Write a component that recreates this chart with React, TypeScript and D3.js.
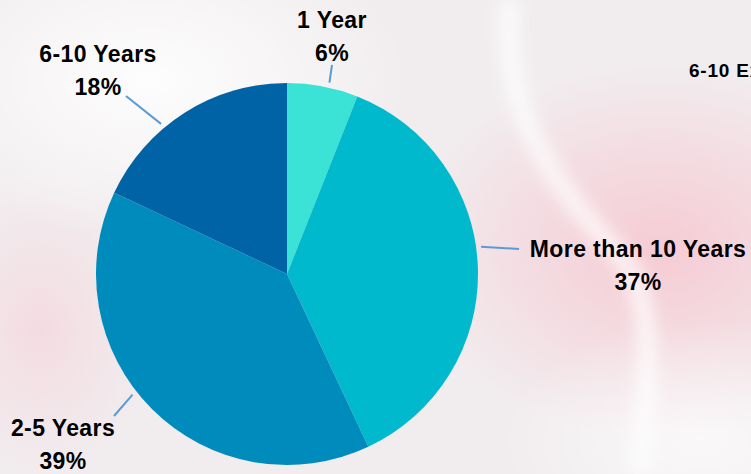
import React, { useEffect, useRef } from 'react'
import * as d3 from 'd3'

// slice data, clockwise from 12 o'clock
const categories = ['1 Year', 'More than 10 Years', '2-5 Years', '6-10 Years']
const shares = [6, 37, 39, 18]
const sliceColors = ['#3ae3d5', '#00b9cc', '#008bbd', '#0063a6']

// label placement relative to the pie centre (Excel style manual layout)
const labelLayout = [
  { x: 45, y: -246, leaderAngle: 12.5, leaderEnd: [45, -209] },
  { x: 351, y: -17, leaderAngle: 82, leaderEnd: [232, -25] },
  { x: -224, y: 162, leaderAngle: 232, leaderEnd: [-173, 142] },
  { x: -189, y: -212, leaderAngle: 320, leaderEnd: [-161, -178] },
]

const W = 751
const H = 474

export default function App() {
  const svgRef = useRef<SVGSVGElement>(null)

  useEffect(() => {
    document.body.style.margin = '0'
    if (!svgRef.current) return
    const svg = d3.select(svgRef.current)
    svg.selectAll('*').remove()

    // blurred photo-ish background
    const defs = svg.append('defs')
    const pink = defs.append('radialGradient').attr('id', 'pink').attr('cx', '0.5').attr('cy', '0.5').attr('r', '0.5')
    pink.append('stop').attr('offset', '0%').attr('stop-color', '#f6c9d2').attr('stop-opacity', 0.95)
    pink.append('stop').attr('offset', '100%').attr('stop-color', '#f6c9d2').attr('stop-opacity', 0)
    const white = defs.append('radialGradient').attr('id', 'white').attr('cx', '0.5').attr('cy', '0.5').attr('r', '0.5')
    white.append('stop').attr('offset', '0%').attr('stop-color', '#ffffff').attr('stop-opacity', 0.9)
    white.append('stop').attr('offset', '100%').attr('stop-color', '#ffffff').attr('stop-opacity', 0)
    defs.append('filter').attr('id', 'blur').attr('x', '-50%').attr('y', '-50%').attr('width', '200%').attr('height', '200%')
      .append('feGaussianBlur').attr('stdDeviation', 8)

    svg.append('rect').attr('width', W).attr('height', H).attr('fill', '#f1edef')
    svg.append('ellipse').attr('cx', 660).attr('cy', 250).attr('rx', 260).attr('ry', 190).attr('fill', 'url(#pink)')
    svg.append('ellipse').attr('cx', 40).attr('cy', 330).attr('rx', 120).attr('ry', 150).attr('fill', 'url(#pink)').attr('opacity', 0.5)
    svg.append('ellipse').attr('cx', 150).attr('cy', 80).attr('rx', 260).attr('ry', 160).attr('fill', 'url(#white)')
    svg.append('ellipse').attr('cx', 700).attr('cy', 440).attr('rx', 200).attr('ry', 120).attr('fill', 'url(#white)').attr('opacity', 0.7)
    svg.append('path')
      .attr('d', 'M510,0 C500,120 560,190 615,250 C655,290 650,360 640,474')
      .attr('fill', 'none').attr('stroke', '#ffffff').attr('stroke-width', 20)
      .attr('opacity', 0.7).attr('filter', 'url(#blur)')

    const cx = 287
    const cy = 274
    const r = 191

    const pie = d3.pie<number>().sort(null).value(d => d)
    const arcs = pie(shares)
    const arc = d3.arc<d3.PieArcDatum<number>>().innerRadius(0).outerRadius(r)

    const g = svg.append('g').attr('transform', `translate(${cx},${cy})`)

    g.selectAll('path.slice')
      .data(arcs)
      .enter()
      .append('path')
      .attr('class', 'slice')
      .attr('d', arc)
      .attr('fill', (_, i) => sliceColors[i])

    const total = d3.sum(shares)

    arcs.forEach((a, i) => {
      const lay = labelLayout[i]
      const ang = (lay.leaderAngle * Math.PI) / 180
      const r0 = r + 5
      g.append('line')
        .attr('x1', r0 * Math.sin(ang))
        .attr('y1', -r0 * Math.cos(ang))
        .attr('x2', lay.leaderEnd[0])
        .attr('y2', lay.leaderEnd[1])
        .attr('stroke', '#5b9bd5')
        .attr('stroke-width', 2)

      const t = g.append('text')
        .attr('text-anchor', 'middle')
        .attr('font-family', 'Liberation Sans, Arial, sans-serif')
        .attr('font-weight', 'bold')
        .attr('font-size', 23)
        .attr('letter-spacing', 0.4)
        .attr('fill', '#000')
      t.append('tspan').attr('x', lay.x).attr('y', lay.y).text(categories[i])
      t.append('tspan').attr('x', lay.x).attr('y', lay.y + 33)
        .text(`${Math.round((a.data / total) * 100)}%`)
    })

    // clipped title of the neighbouring chart
    svg.append('text')
      .attr('x', 689)
      .attr('y', 77)
      .attr('font-family', 'Liberation Sans, Arial, sans-serif')
      .attr('font-weight', 'bold')
      .attr('font-size', 19)
      .attr('letter-spacing', 0.8)
      .attr('fill', '#000')
      .text('6-10 Experience')
  }, [])

  return (
    <div style={{ position: 'absolute', left: 0, top: 0, width: W, height: H, overflow: 'hidden' }}>
      <svg ref={svgRef} width={W} height={H} />
    </div>
  )
}
